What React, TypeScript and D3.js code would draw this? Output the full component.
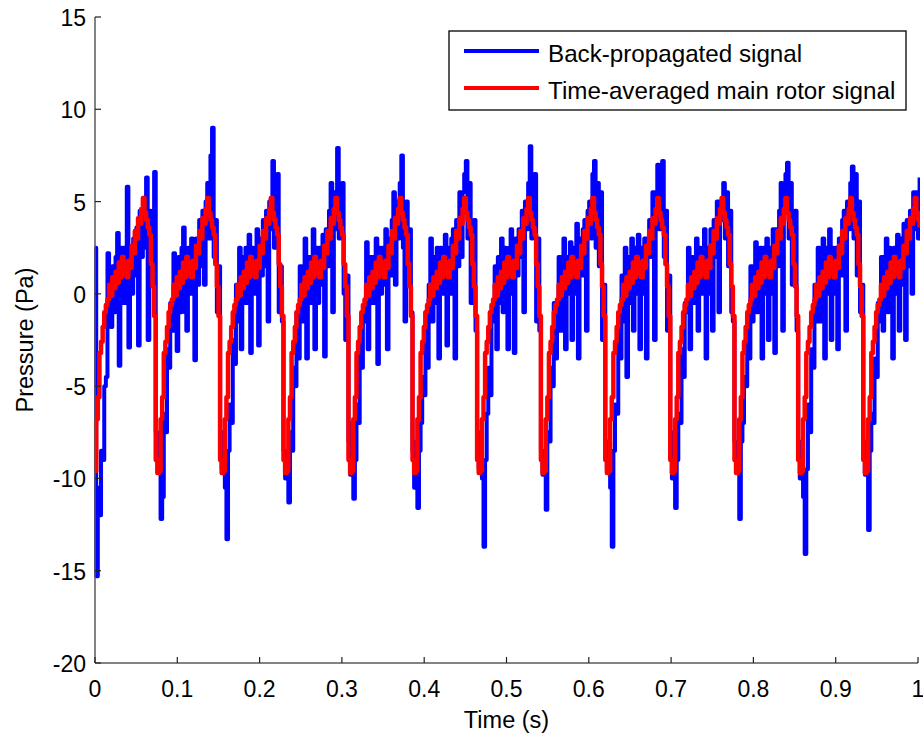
import React from "react";
import * as d3 from "d3";

// Times (s) at which each rotor cycle starts (sharp pressure drop); last value closes the final cycle
const cycleBounds = [-0.0044, 0.0738, 0.152, 0.229, 0.308, 0.3858, 0.4643, 0.5418, 0.62, 0.699, 0.777, 0.8544, 0.9335, 1.0117];

// Time-averaged main rotor signal over one cycle (Pa), 40 samples
const averagedCycle = [
  -9.0, -9.7, -9.6, -6.8, -5.6, -3.2, -2.6, -1.8, -1.0, -0.6,
  -0.3, 0.5, -0.1, 0.9, 0.3, 1.2, 0.6, 1.7, 0.9, 2.0,
  1.1, 1.7, 0.9, 1.8, 1.4, 2.6, 2.2, 3.4, 3.0, 4.1,
  3.8, 4.6, 5.2, 4.4, 4.0, 3.6, 3.2, 1.6, 0.4, -1.2,
];

// Back-propagated signal (Pa), 40 samples per cycle
const backPropagatedCycles = [
  [-8.0, -9.0, 2.5, -15.3, -10.5, -12.0, -8.5, -9.0, -5.0, -4.5, 2.2, -1.0, -1.8, 1.5, -1.0, 2.0, 3.3, -3.9, 2.5, -0.5, 2.5, -0.5, 5.8, -2.9, 2.5, 0.0, 3.0, 1.0, 3.6, -2.8, 4.5, 2.0, 4.5, 2.5, 6.3, -2.5, 4.5, 1.5, 3.0, 6.6],
  [-7.5, -9.0, -8.0, -12.2, -11.0, -6.5, -7.5, -3.0, -4.0, -0.5, -2.0, 2.2, 1.0, -3.1, 2.0, -1.0, 2.5, 3.6, -1.0, -2.0, 2.5, 0.0, 3.0, 2.7, -3.6, 3.0, 0.5, 4.0, 1.5, 4.5, 0.5, 5.0, 6.0, 3.0, 7.5, 9.0, 2.0, 4.0, -1.0, 1.5],
  [-8.0, -9.5, -7.5, -10.5, -13.3, -8.5, -6.0, -7.0, -2.5, -3.8, 0.5, -1.5, 2.5, -3.0, 2.0, -0.5, 2.5, -0.5, 3.2, -3.2, 2.5, 0.0, 2.5, 3.5, -2.8, 3.0, 1.0, 4.0, 1.5, 4.5, -1.5, 5.0, 3.5, 7.2, 2.5, 5.5, 6.5, -1.0, 1.5, -1.5],
  [-8.5, -10.0, -9.0, -11.3, -7.5, -8.5, -4.0, -5.0, -1.0, -3.5, 1.5, -1.5, 1.5, 3.0, -3.5, 2.0, -0.5, 2.0, 3.5, -3.0, 2.5, -0.5, 2.5, 0.5, 3.2, -3.4, 3.5, 1.5, 4.5, 6.0, -1.0, 5.5, 3.5, 7.9, 3.0, 5.0, 6.0, 0.0, -2.5, 1.0],
  [-8.0, -9.8, -7.0, -11.1, -9.0, -6.0, -7.0, -2.5, -4.0, -1.0, -1.5, 2.8, -3.0, 2.0, -0.5, 2.0, -0.5, 3.0, -3.8, 2.5, 0.0, 2.5, 0.5, 3.5, -3.0, 3.0, 1.0, 4.0, 5.5, 0.5, 5.0, 3.0, 6.0, 7.5, 2.5, -1.5, 5.0, 0.5, 3.5, -1.0],
  [-8.5, -10.5, -8.0, -11.6, -8.5, -7.0, -4.5, -5.5, -1.0, -4.0, 0.5, 3.0, -1.5, 2.0, -0.5, 2.5, -3.5, 2.5, 0.0, 2.5, 3.2, -2.8, 2.5, 0.0, 3.0, 3.5, -3.5, 4.0, 1.5, 5.5, 2.0, 5.5, 6.5, 7.2, 3.0, 6.0, -0.5, 3.0, 4.0, -2.0],
  [-8.0, -9.5, -7.5, -10.0, -13.7, -9.0, -6.5, -4.0, -5.5, -1.0, -1.5, 1.5, -3.0, 2.0, -0.5, 3.0, -1.0, 2.5, 1.8, -3.0, 2.5, 3.5, 0.0, -3.2, 3.0, 1.0, 3.5, 2.0, 4.5, -1.0, 5.0, 3.5, 6.0, 8.0, 3.0, 5.0, 6.5, -1.5, 3.0, -2.0],
  [-8.5, -9.8, -8.5, -11.7, -7.5, -8.0, -4.0, -5.0, -0.5, -3.5, -1.5, 2.0, -2.0, 2.0, 3.0, -3.0, 2.0, 0.0, 2.8, -2.5, 2.5, 0.0, 3.8, -3.5, 3.0, 1.0, 3.5, 4.0, -2.0, 4.5, 5.0, 3.0, 6.5, 7.2, 2.5, 6.0, 1.5, 5.5, -2.5, 0.5],
  [-8.0, -9.5, -8.0, -10.5, -13.7, -8.5, -6.0, -6.5, -2.0, -3.5, 1.0, -1.5, 2.5, -4.5, 2.0, -0.5, 3.0, -2.0, 2.5, 0.0, 3.2, -3.0, 2.5, 0.0, 3.0, -3.5, 3.0, 4.0, 2.0, 5.5, -2.5, 5.5, 7.0, 3.5, 5.0, 7.2, 2.0, 4.5, -2.0, 1.0],
  [-8.5, -10.0, -7.5, -11.6, -9.0, -6.5, -7.0, -3.0, -4.5, -0.5, -1.0, 2.5, -3.0, 2.0, -0.5, 2.0, 3.0, -2.0, 2.5, 0.0, 2.5, 3.5, -3.5, 2.5, 0.0, 3.5, -2.0, 4.0, 2.0, 5.0, -1.0, 5.0, 4.0, 6.0, 3.0, 5.5, 1.5, 4.5, -1.0, -1.5],
  [-8.0, -9.5, -8.5, -12.2, -8.0, -7.0, -4.5, -5.0, -1.5, -3.5, 1.5, -1.5, 1.5, 2.8, -1.0, 2.0, 2.5, -3.5, 2.5, 0.0, 3.0, -2.5, 2.5, 0.0, 3.5, -3.2, 3.5, 1.5, 4.5, 6.0, -2.0, 5.0, 6.5, 7.1, 3.0, 6.0, 0.5, 3.5, 4.5, -2.0],
  [-8.5, -10.0, -8.0, -11.0, -14.1, -9.5, -6.0, -7.5, -3.0, -4.0, 0.5, -1.5, 2.5, -1.5, 2.0, 3.0, -3.5, 2.5, 0.0, 3.5, -2.5, 2.5, 0.0, 2.5, -3.0, 3.0, 1.0, 4.0, 4.5, -2.0, 5.0, 3.5, 6.0, 6.9, 3.0, 6.5, 1.0, 5.0, -1.0, 0.5],
  [-8.5, -9.8, -8.0, -12.8, -8.5, -6.5, -7.0, -3.5, -4.5, -0.5, -1.5, 2.0, -2.0, 2.0, 3.0, -1.0, 2.5, 0.0, -3.5, 2.5, 0.0, 3.2, -2.0, 3.0, 0.5, 3.8, -2.5, 4.0, 1.5, 4.5, 0.0, 5.5, 3.5, 5.5, 3.0, 6.3],
];

const xTicks = [0, 0.1, 0.2, 0.3, 0.4, 0.5, 0.6, 0.7, 0.8, 0.9, 1];
const xTickLabels = ["0", "0.1", "0.2", "0.3", "0.4", "0.5", "0.6", "0.7", "0.8", "0.9", "1"];
const yTicks = [-20, -15, -10, -5, 0, 5, 10, 15];
const yTickLabels = ["-20", "-15", "-10", "-5", "0", "5", "10", "15"];
const seriesNames = ["Back-propagated signal", "Time-averaged main rotor signal"];
const seriesColors = ["#0000ff", "#ff0000"];

const W = 923;
const H = 736;
const M = { left: 95, right: 918, top: 17, bottom: 663 };
const FONT = "Liberation Sans, Arial, sans-serif";

function cyclePoints(rows: number[][]): [number, number][] {
  const pts: [number, number][] = [];
  rows.forEach((row, k) => {
    const t0 = cycleBounds[k];
    const t1 = cycleBounds[k + 1];
    row.forEach((v, j) => {
      const t = t0 + (j / 40) * (t1 - t0);
      if (t >= -0.001 && t <= 1.003) pts.push([t, v]);
    });
  });
  return pts;
}

export default function App() {
  const x = d3.scaleLinear().domain([0, 1]).range([M.left, M.right]);
  const y = d3.scaleLinear().domain([-20, 15]).range([M.bottom, M.top]);
  const line = d3
    .line<[number, number]>()
    .x((d) => x(d[0]))
    .y((d) => y(d[1]))
    .curve(d3.curveStepAfter);

  const bluePts = cyclePoints(backPropagatedCycles);
  const redPts = cyclePoints(backPropagatedCycles.map(() => averagedCycle));

  return (
    <svg
      width={W}
      height={H}
      style={{ position: "absolute", left: 0, top: 0, display: "block", background: "#fff" }}
      fontFamily={FONT}
    >
      <rect x={0} y={0} width={W} height={H} fill="#fff" />
      <defs>
        <clipPath id="plotclip">
          <rect x={M.left - 2} y={M.top - 10} width={M.right - M.left + 4} height={M.bottom - M.top + 10} />
        </clipPath>
      </defs>
      <g clipPath="url(#plotclip)">
        <path d={line(bluePts) || ""} fill="none" stroke={seriesColors[0]} strokeWidth={4} strokeLinejoin="round" />
        <path d={line(redPts) || ""} fill="none" stroke={seriesColors[1]} strokeWidth={4.5} strokeLinejoin="round" />
      </g>
      {/* axes */}
      <line x1={M.left} y1={M.top} x2={M.left} y2={M.bottom} stroke="#5a5a5a" strokeWidth={1.5} />
      <line x1={M.left} y1={M.bottom} x2={M.right} y2={M.bottom} stroke="#5a5a5a" strokeWidth={1.5} />
      {yTicks.map((v, i) => (
        <g key={"y" + i}>
          <line x1={M.left} x2={M.left + 6} y1={y(v)} y2={y(v)} stroke="#222" strokeWidth={1.2} />
          <text x={86} y={y(v) + 9} textAnchor="end" fontSize={23} fill="#000">
            {yTickLabels[i]}
          </text>
        </g>
      ))}
      {xTicks.map((v, i) => (
        <g key={"x" + i}>
          <line x1={x(v)} x2={x(v)} y1={M.bottom} y2={M.bottom - 6} stroke="#222" strokeWidth={1.2} />
          <text x={x(v)} y={697} textAnchor="middle" fontSize={23} fill="#000">
            {xTickLabels[i]}
          </text>
        </g>
      ))}
      <text x={(M.left + M.right) / 2} y={728} textAnchor="middle" fontSize={23.5} fill="#000">
        Time (s)
      </text>
      <text
        transform={`translate(33, ${(M.top + M.bottom) / 2}) rotate(-90)`}
        textAnchor="middle"
        fontSize={23.5}
        fill="#000"
      >
        Pressure (Pa)
      </text>
      {/* legend */}
      <rect x={449} y={31} width={457} height={79} fill="#fff" stroke="#000" strokeWidth={1.3} />
      {seriesNames.map((name, i) => (
        <g key={"l" + i}>
          <line x1={464} x2={539} y1={51 + i * 37} y2={51 + i * 37} stroke={seriesColors[i]} strokeWidth={4} />
          <text x={548} y={62 + i * 37} fontSize={24.2} fill="#000">
            {name}
          </text>
        </g>
      ))}
    </svg>
  );
}
